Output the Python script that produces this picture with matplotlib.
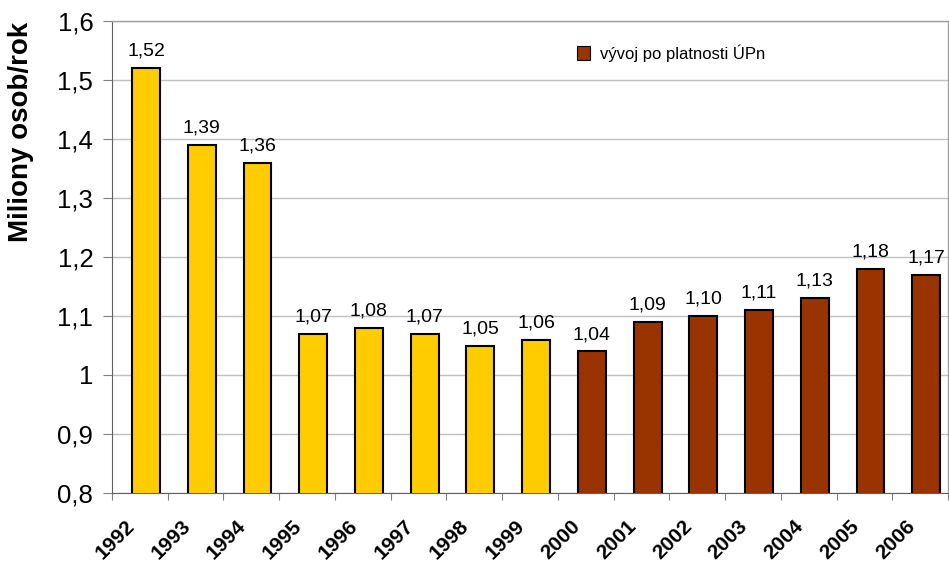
import matplotlib
matplotlib.use("Agg")
import matplotlib.pyplot as plt
from matplotlib.patches import Patch
from matplotlib.transforms import ScaledTranslation
import numpy as np

plt.rcParams['font.family'] = ['Liberation Sans', 'DejaVu Sans']

years = ["1992", "1993", "1994", "1995", "1996", "1997", "1998", "1999",
         "2000", "2001", "2002", "2003", "2004", "2005", "2006"]
values = [1.52, 1.39, 1.36, 1.07, 1.08, 1.07, 1.05, 1.06,
          1.04, 1.09, 1.10, 1.11, 1.13, 1.18, 1.17]
after_plan = [False] * 8 + [True] * 7
legend_label = "vývoj po platnosti ÚPn"
y_label = "Miliony osob/rok"

yellow = "#FFCC00"
brown = "#993300"

fig = plt.figure(figsize=(9.49, 5.65), dpi=100)
ax = fig.add_axes([112 / 949, 72 / 565, 836 / 949, 472 / 565])

x = np.arange(len(years))
bar_x = x + 0.11
colors = [brown if a else yellow for a in after_plan]
ax.bar(bar_x, values, width=0.5, color=colors, edgecolor="black",
       linewidth=1.5, zorder=3)

for xi, v in zip(bar_x, values):
    ax.annotate(f"{v:.2f}".replace(".", ","), (xi, v), xytext=(0, 6),
                textcoords="offset points", ha="center", va="bottom",
                fontsize=14, zorder=4)

ax.set_xlim(-0.5, len(years) - 0.5)
ax.set_ylim(0.8, 1.6)
yticks = np.round(np.arange(0.8, 1.61, 0.1), 1)
ax.set_yticks(yticks)
ax.set_yticklabels([f"{t:g}".replace(".", ",") for t in yticks], fontsize=18.5)
ax.yaxis.grid(True, color="#c0c0c0", linewidth=1, zorder=0)
ax.tick_params(axis="y", length=6.5, color="#808080", pad=7)

# category ticks between bars, year labels under each category
ax.set_xticks(np.arange(-0.5, len(years) + 0.5, 1), minor=False)
ax.set_xticklabels([])
ax.set_xticks(x, minor=True)
ax.set_xticklabels(years, minor=True, rotation=45, ha="right",
                   rotation_mode="anchor", fontsize=15, fontweight="bold")
ax.tick_params(axis="x", which="major", length=5, color="#808080")
ax.tick_params(axis="x", which="minor", length=0, pad=17)
shift = ScaledTranslation(-15 / 100, 0, fig.dpi_scale_trans)
for lbl in ax.get_xticklabels(minor=True):
    lbl.set_transform(lbl.get_transform() + shift)

for side in ("top", "right"):
    ax.spines[side].set_color("#a0a0a0")
    ax.spines[side].set_linewidth(1)
ax.spines["left"].set_color("#606060")
ax.spines["bottom"].set_color("#606060")

ax.set_ylabel(y_label, fontsize=20, fontweight="bold")
ax.yaxis.set_label_coords(-0.093, 0.765)

fig.legend(handles=[Patch(facecolor=brown, edgecolor="black", linewidth=0.8,
                          label=legend_label)],
           loc="center left", bbox_to_anchor=(577 / 949, 1 - 53 / 565),
           frameon=False, fontsize=12, handlelength=0.78, handleheight=0.9,
           handletextpad=0.6, borderpad=0, borderaxespad=0)

fig.savefig("out.png", dpi=100)
